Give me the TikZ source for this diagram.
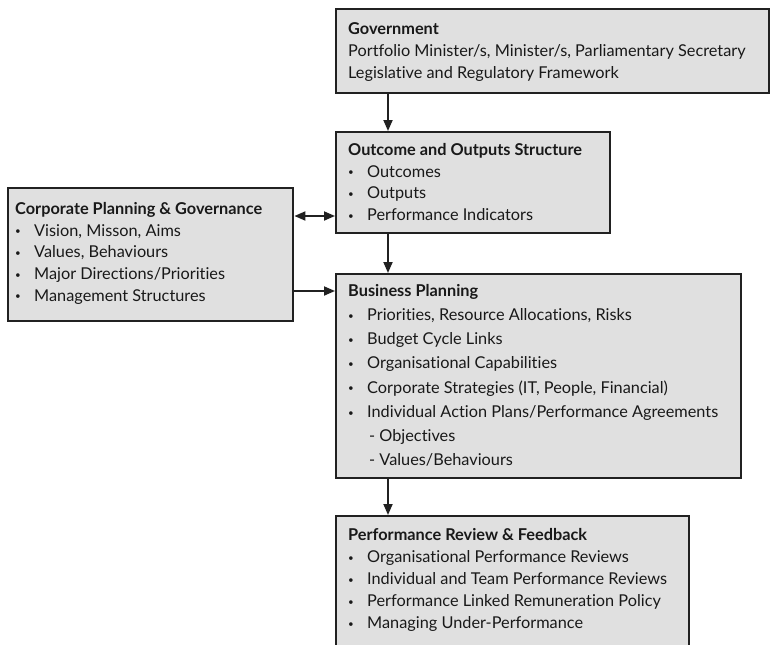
\documentclass[tikz,border=0pt]{standalone}
\usepackage{fontspec}
\setmainfont{Lato}[Ligatures=NoCommon]
\usepackage{tikz}
\usetikzlibrary{positioning}
\usetikzlibrary{arrows.meta}
\definecolor{boxfill}{gray}{0.88}
\definecolor{boxline}{gray}{0.13}
\newcommand{\bul}{\makebox[19pt][l]{\raisebox{0.15ex}{\scalebox{0.6}{\textbullet}}}}
\newcommand{\subitm}{\hspace*{21pt}}
\tikzstyle{block}=[draw=boxline, fill=boxfill, line width=2.4pt, inner sep=0pt, anchor=north west]
\tikzstyle{blocktext}=[anchor=north west, inner sep=0pt, align=left, text=black!90]
\tikzstyle{arrow}=[->, >={Triangle[length=11pt,width=9pt]}, line width=1.8pt, draw=boxline]

\begin{document}
\begin{tikzpicture}[x=1pt, y=-1pt]
      \useasboundingbox (0,0) rectangle (771,645);
      \clip (0,0) rectangle (771,645);

      % boxes
      \node [block, minimum width=433pt, minimum height=84pt] (gov) at (335,8) {};
      \node [block, minimum width=274pt, minimum height=101pt] (out) at (335,131) {};
      \node [block, minimum width=285pt, minimum height=133pt] (corp) at (7,187) {};
      \node [block, minimum width=405pt, minimum height=204pt] (bp) at (335,273) {};
      \node [block, minimum width=353pt, minimum height=160pt] (perf) at (335,515) {};

      % texts
      \node [blocktext, font=\fontsize{16.3}{22}\selectfont] (govtxt) at ([xshift=13pt,yshift=-14pt]gov.north west)
        {\textbf{Government}\\
         Portfolio Minister/s, Minister/s, Parliamentary Secretary\\
         Legislative and Regulatory Framework};
      \node [blocktext, font=\fontsize{16.3}{21.7}\selectfont] (outtxt) at ([xshift=13pt,yshift=-12pt]out.north west)
        {\textbf{Outcome and Outputs Structure}\\
         \bul Outcomes\\
         \bul Outputs\\
         \bul Performance Indicators};
      \node [blocktext, font=\fontsize{16.3}{21.7}\selectfont] (corptxt) at ([xshift=8pt,yshift=-15pt]corp.north west)
        {\textbf{Corporate Planning \& Governance}\\
         \bul Vision, Misson, Aims\\
         \bul Values, Behaviours\\
         \bul Major Directions/Priorities\\
         \bul Management Structures};
      \node [blocktext, font=\fontsize{16.3}{24.2}\selectfont] (bptxt) at ([xshift=13pt,yshift=-11pt]bp.north west)
        {\textbf{Business Planning}\\
         \bul Priorities, Resource Allocations, Risks\\
         \bul Budget Cycle Links\\
         \bul Organisational Capabilities\\
         \bul Corporate Strategies (IT, People, Financial)\\
         \bul Individual Action Plans/Performance Agreements\\
         \subitm - Objectives\\
         \subitm - Values/Behaviours};
      \node [blocktext, font=\fontsize{16.3}{22}\selectfont] (perftxt) at ([xshift=13pt,yshift=-13pt]perf.north west)
        {\textbf{Performance Review \& Feedback}\\
         \bul Organisational Performance Reviews\\
         \bul Individual and Team Performance Reviews\\
         \bul Performance Linked Remuneration Policy\\
         \bul Managing Under-Performance};

      % connectors
      \coordinate (spine) at (388,0);
      \coordinate (linkA) at (0,216);
      \coordinate (linkB) at (0,291);
      \draw [arrow] (gov.south -| spine) -- (out.north -| spine);
      \draw [arrow] (out.south -| spine) -- (bp.north -| spine);
      \draw [arrow] (bp.south -| spine) -- (perf.north -| spine);
      \draw [arrow, <->] (corp.east |- linkA) -- (out.west |- linkA);
      \draw [arrow] (corp.east |- linkB) -- (bp.west |- linkB);
\end{tikzpicture}
\end{document}
